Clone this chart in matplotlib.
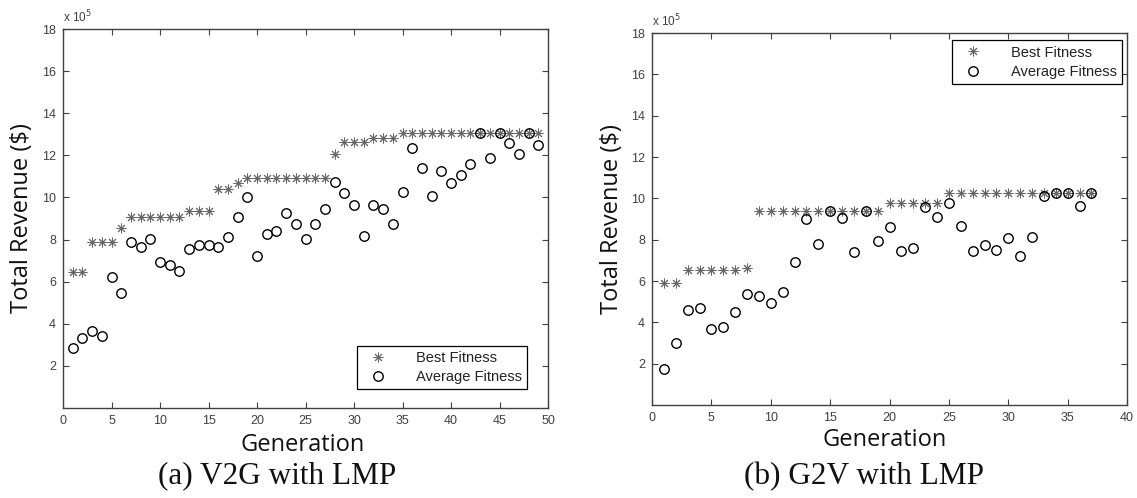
import numpy as np
import matplotlib
matplotlib.use("Agg")
from matplotlib import pyplot

# (a) V2G with LMP  (values in 1e5 $)
gen_a = np.arange(1, 50)
best_a = [6.45, 6.45, 7.9, 7.9, 7.9, 8.55, 9.08, 9.08, 9.08, 9.08,
          9.08, 9.08, 9.37, 9.37, 9.37, 10.38, 10.38, 10.67, 10.9, 10.9,
          10.9, 10.9, 10.9, 10.9, 10.9, 10.9, 10.9, 12.06, 12.65, 12.65,
          12.65, 12.83, 12.83, 12.83, 13.07, 13.07, 13.07, 13.07, 13.07, 13.07,
          13.07, 13.07, 13.07, 13.07, 13.07, 13.07, 13.07, 13.07, 13.07]
avg_a = [2.86, 3.34, 3.66, 3.43, 6.24, 5.44, 7.87, 7.66, 8.02, 6.92,
         6.78, 6.5, 7.57, 7.72, 7.76, 7.66, 8.14, 9.08, 10.0, 7.23,
         8.26, 8.4, 9.27, 8.74, 8.01, 8.74, 9.43, 10.75, 10.22, 9.64,
         8.17, 9.64, 9.46, 8.74, 10.27, 12.33, 11.38, 10.07, 11.27, 10.7,
         11.06, 11.59, 13.07, 11.86, 13.07, 12.6, 12.06, 13.07, 12.49]

# (b) G2V with LMP
gen_b = np.arange(1, 38)
best_b = [5.89, 5.89, 6.54, 6.54, 6.54, 6.54, 6.54, 6.65, 9.41, 9.41,
          9.41, 9.41, 9.41, 9.41, 9.41, 9.41, 9.41, 9.41, 9.41, 9.76,
          9.76, 9.76, 9.76, 9.76, 10.25, 10.25, 10.25, 10.25, 10.25, 10.25,
          10.25, 10.25, 10.25, 10.25, 10.25, 10.25, 10.25]
avg_b = [1.73, 2.99, 4.6, 4.68, 3.66, 3.78, 4.52, 5.36, 5.29, 4.92,
         5.46, 6.94, 8.99, 7.8, 9.41, 9.04, 7.38, 9.41, 7.93, 8.59,
         7.43, 7.59, 9.57, 9.09, 9.77, 8.64, 7.43, 7.75, 7.51, 8.07,
         7.22, 8.12, 10.09, 10.25, 10.25, 9.64, 10.25]

W, H = 1137, 498
fig = pyplot.figure(figsize=(W / 100, H / 100), dpi=100)

tick_col = "#404040"
star = (8, 2, 0)


def px(x0, y0, x1, y1):
    # pixel box -> figure fraction rect
    return [x0 / W, 1 - y1 / H, (x1 - x0) / W, (y1 - y0) / H]


def setup(ax, xmax, gen, best, avg, leg_loc, leg_anchor):
    ax.plot(gen, best, linestyle="none", marker=star, markersize=7,
            mew=0.7, color="#666666", label="Best Fitness")
    ax.plot(gen, avg, linestyle="none", marker="o", markersize=6.8,
            mfc="none", mec="black", mew=1.0, label="Average Fitness")
    ax.set_xlim(0, xmax)
    ax.set_ylim(0, 18)
    ax.set_xticks(np.arange(0, xmax + 1, 5))
    ax.set_yticks(np.arange(2, 19, 2))
    ax.tick_params(direction="in", top=True, right=True, length=4,
                   width=0.8, color=tick_col, labelcolor=tick_col,
                   labelsize=9, pad=5)
    for s in ax.spines.values():
        s.set_color(tick_col)
        s.set_linewidth(1.0)
    leg = ax.legend(loc=leg_loc, bbox_to_anchor=leg_anchor, borderaxespad=0,
                    fancybox=False, framealpha=1, edgecolor="black",
                    handletextpad=1.5, borderpad=0.35,
                    labelspacing=0.35, handlelength=2.2,
                    prop={"family": "Liberation Sans", "size": 10.5})
    leg.get_frame().set_linewidth(0.9)
    for t in leg.get_texts():
        t.set_color("#222222")


ax_a = fig.add_axes(px(63, 29, 548, 408))
setup(ax_a, 50, gen_a, best_a, avg_a, "lower right", (0.957, 0.05))
ax_b = fig.add_axes(px(652, 33, 1127, 405))
setup(ax_b, 40, gen_b, best_b, avg_b, "upper right", (0.99, 0.98))

for ax in (ax_a, ax_b):
    for lab in ax.get_xticklabels() + ax.get_yticklabels():
        lab.set_family("Liberation Sans")

lab_font = {"family": "Open Sans", "size": 17, "color": "#111111"}
cap_font = {"family": "Liberation Serif", "size": 22.5, "color": "#111111"}

# y labels
fig.text(22 / W, 1 - 218 / H, "Total Revenue ($)", rotation=90,
         ha="center", va="center", fontdict=lab_font)
fig.text(612 / W, 1 - 219 / H, "Total Revenue ($)", rotation=90,
         ha="center", va="center", fontdict=lab_font)

# x labels
fig.text(303 / W, 1 - 445 / H, "Generation", ha="center", va="center",
         fontdict=lab_font)
fig.text(885 / W, 1 - 440 / H, "Generation", ha="center", va="center",
         fontdict=lab_font)

# captions
fig.text(277 / W, 1 - 476 / H, "(a) V2G with LMP", ha="center",
         va="center", fontdict=cap_font)
fig.text(864 / W, 1 - 477 / H, "(b) G2V with LMP", ha="center",
         va="center", fontdict=cap_font)

# exponent labels
fig.text(63 / W, 1 - 17 / H, r"x 10$^5$", ha="left", va="center",
         fontsize=8.5, color=tick_col, family="Liberation Sans")
fig.text(652 / W, 1 - 21 / H, r"x 10$^5$", ha="left", va="center",
         fontsize=8.5, color=tick_col, family="Liberation Sans")

fig.savefig("out.png", dpi=100)
